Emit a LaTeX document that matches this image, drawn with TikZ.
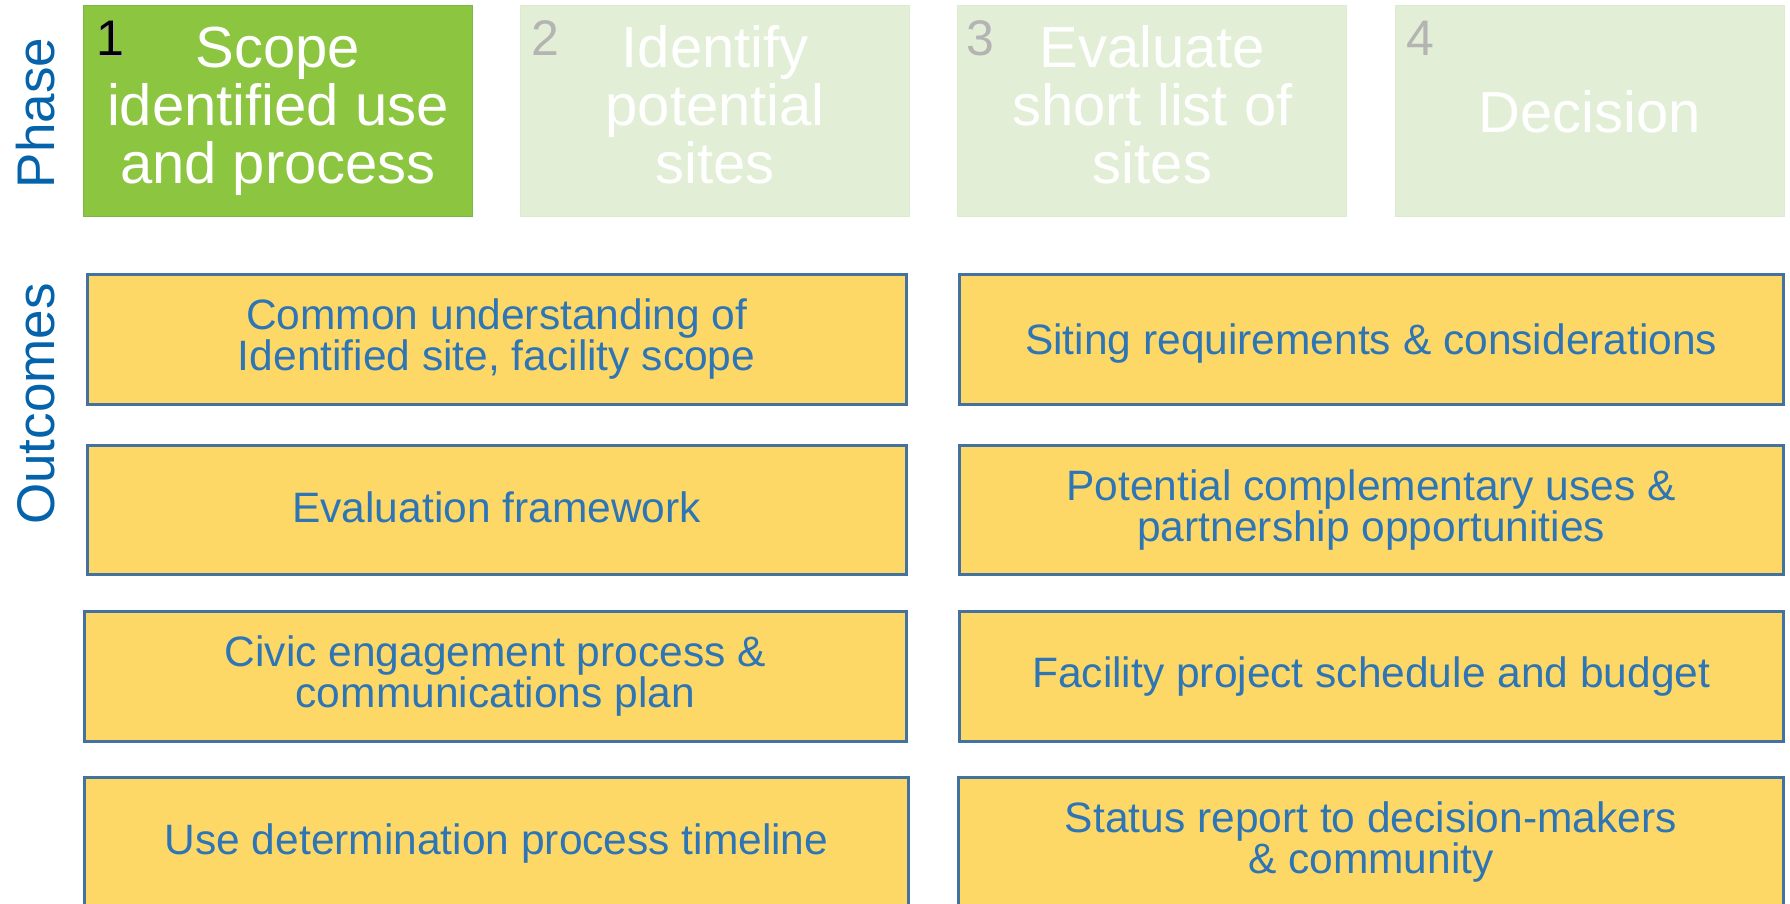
\documentclass[tikz,border=0pt]{standalone}
\usepackage{fontspec}
\setmainfont{Liberation Sans}
\definecolor{phgreen}{HTML}{8CC540}
\definecolor{phgreenline}{HTML}{7AB648}
\definecolor{phpale}{HTML}{E2EFD6}
\definecolor{phpaleline}{HTML}{DCEAD0}
\definecolor{ocfill}{HTML}{FDD866}
\definecolor{ocline}{HTML}{4472A0}
\definecolor{octext}{HTML}{2E75B6}
\definecolor{lblblue}{HTML}{0563AB}
\definecolor{numgray}{HTML}{B4B4B4}
\newcommand\Tstr{\rule{0pt}{0.75em}}
\newcommand\Tstrmid{\rule{0pt}{0.85em}}
\newcommand\Tstrup{\rule{0pt}{0.95em}}
\newcommand\Tstrhi{\rule{0pt}{1em}}
\newcommand\Bstr{\rule[-0.25em]{0pt}{0.25em}}
\begin{document}
\begin{tikzpicture}[x=1pt,y=-1pt,
  phasebox/.style={rectangle, inner sep=0pt, minimum width=389pt, minimum height=211pt,
    align=center, text=white, font=\fontsize{58}{58}\selectfont},
  activebox/.style={phasebox, fill=phgreen, draw=phgreenline, line width=1.5pt},
  palebox/.style={phasebox, fill=phpale, draw=phpaleline, line width=1pt},
  outbox/.style={rectangle, inner sep=0pt, fill=ocfill, draw=ocline, line width=3pt,
    align=center, text=octext, font=\fontsize{42.5}{41}\selectfont},
  lbltxt/.style={inner sep=0pt, text=lblblue, font=\fontsize{53}{53}\selectfont, rotate=90, anchor=base},
  numtxt/.style={inner sep=0pt, anchor=base west, font=\fontsize{50}{50}\selectfont},
]
\useasboundingbox (0,0) rectangle (1790,904);
\clip (0,0) rectangle (1790,904);
\fill[white] (0,0) rectangle (1790,904);

% side labels
\node[lbltxt] (phase) at (54,113) {Phase};
\node[lbltxt] (outcomes) at (54,404) {Outcomes};

% phase boxes
\node[activebox] (p1) at (278,111) {\Tstr Scope\\identified use\\and process\Bstr};
\node[palebox] (p2) at (715.2,111) {\Tstr Identify\\potential\\sites\Bstr};
\node[palebox] (p3) at (1152.4,111) {\Tstr Evaluate\\short list of\\sites\Bstr};
\node[palebox] (p4) at (1589.6,111) {\Tstrhi Decision\Bstr};

% phase numbers
\node[numtxt, text=black!35] (n1s) at (97.5,57) {1};
\node[numtxt, text=black] (n1) at (96.5,56) {1};
\node[numtxt, text=numgray] (n2) at (531,56) {2};
\node[numtxt, text=numgray] (n3) at (966,56) {3};
\node[numtxt, text=numgray] (n4) at (1406,56) {4};

% outcome boxes, left column
\node[outbox, minimum width=818.9pt, minimum height=130pt] (o1) at (496.65,339.2)
  {\Tstr Common understanding of\\Identified site, facility scope\Bstr};
\node[outbox, minimum width=818.9pt, minimum height=129pt] (o2) at (496.65,510)
  {\Tstrmid Evaluation framework\Bstr};
\node[outbox, minimum width=822.3pt, minimum height=130pt] (o3) at (495.35,676.5)
  {\Tstr Civic engagement process \&\\communications plan\Bstr};
\node[outbox, minimum width=824.6pt, minimum height=129.3pt] (o4) at (496.5,841.9)
  {\Tstrmid Use determination process timeline\Bstr};

% outcome boxes, right column
\node[outbox, minimum width=824.5pt, minimum height=130pt] (r1) at (1371.25,339.2)
  {\Tstrup Siting requirements \& considerations\Bstr};
\node[outbox, minimum width=824.5pt, minimum height=129pt] (r2) at (1371.25,510)
  {\Tstr Potential complementary uses \&\\partnership opportunities\Bstr};
\node[outbox, minimum width=824.5pt, minimum height=130pt] (r3) at (1371.25,676.5)
  {\Tstr Facility project schedule and budget\Bstr};
\node[outbox, minimum width=825.3pt, minimum height=129.3pt] (r4) at (1370.85,841.9)
  {\Tstr Status report to decision-makers\\\& community\Bstr};
\end{tikzpicture}
\end{document}
